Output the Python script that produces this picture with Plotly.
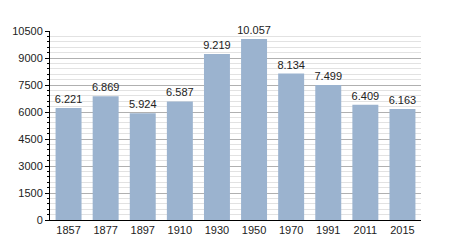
import plotly.graph_objects as go

years = ["1857", "1877", "1897", "1910", "1930", "1950", "1970", "1991", "2011", "2015"]
population = [6221, 6869, 5924, 6587, 9219, 10057, 8134, 7499, 6409, 6163]
labels = ["6.221", "6.869", "5.924", "6.587", "9.219", "10.057", "8.134", "7.499", "6.409", "6.163"]
ytick_vals = [0, 1500, 3000, 4500, 6000, 7500, 9000, 10500]
ytick_text = ["0", "1500", "3000", "4500", "6000", "7500", "9000", "10500"]

fig = go.Figure(go.Bar(
    x=years, y=population, text=labels, textposition="outside",
    marker=dict(color="#9bb3cf", line=dict(width=0)),
    textfont=dict(family="Liberation Sans, Arial", size=11, color="#222"),
    cliponaxis=False, width=0.7, constraintext="none",
))
fig.update_layout(
    width=450, height=250,
    margin=dict(l=50, r=29, t=31, b=30),
    paper_bgcolor="white", plot_bgcolor="white",
    showlegend=False,
    font=dict(family="Liberation Sans, Arial", size=11, color="#222"),
    bargap=0.3,
)
fig.update_xaxes(
    type="category", showline=True, linecolor="black", linewidth=1,
    ticks="", showgrid=False, tickfont=dict(size=11),
)
fig.update_yaxes(
    range=[0, 10500], tickvals=ytick_vals, ticktext=ytick_text, showline=True,
    linecolor="black", linewidth=1, ticks="outside", ticklen=4, tickcolor="black",
    showgrid=True, gridcolor="#b0b0b0", gridwidth=1, zeroline=False,
    minor=dict(tick0=0, dtick=300, ticks="outside", ticklen=2, tickcolor="black",
               showgrid=True, gridcolor="#e2e2e2", gridwidth=1),
    tickfont=dict(size=11),
)
fig.write_html("out.html")
